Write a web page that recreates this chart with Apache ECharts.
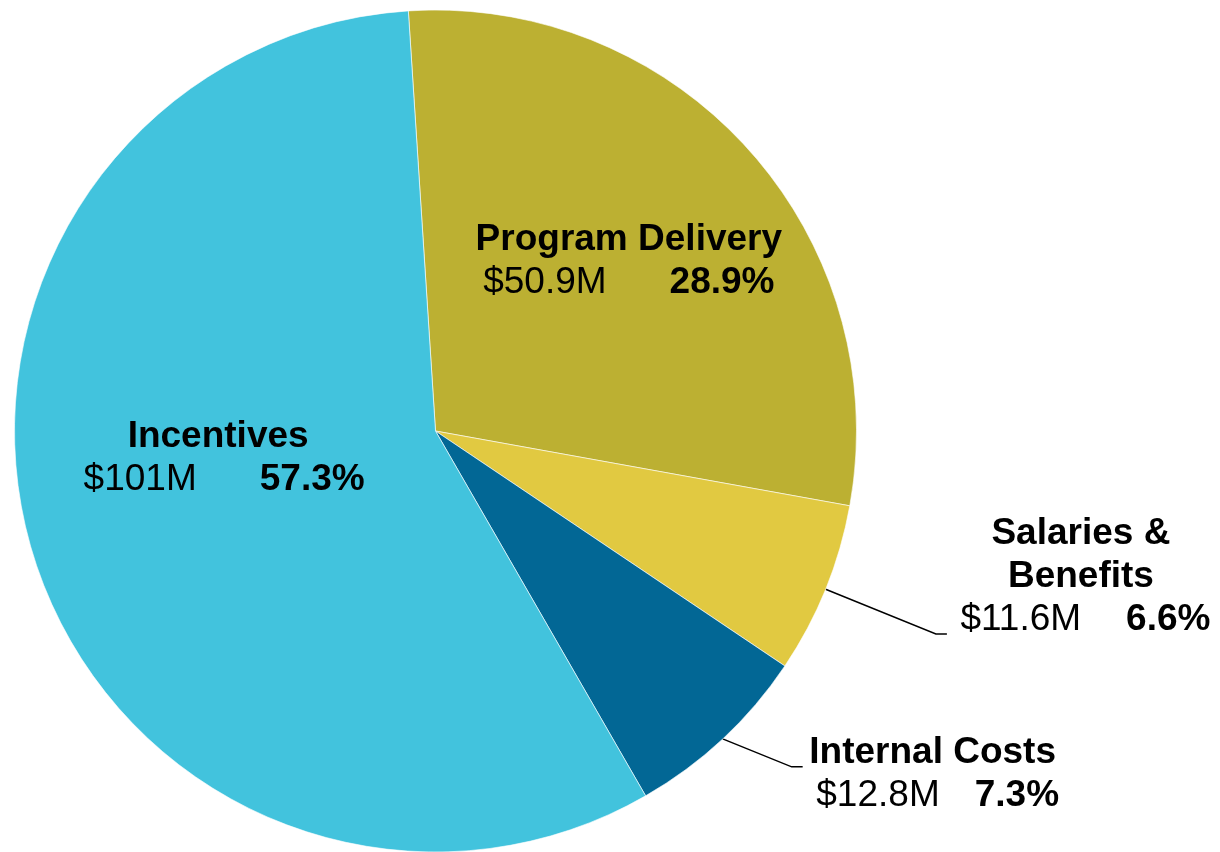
<!DOCTYPE html>
<html>
<head>
<meta charset="utf-8">
<script src="https://cdn.jsdelivr.net/npm/echarts@6/dist/echarts.min.js"></script>
<style>
  html, body { margin: 0; padding: 0; background: #fff; }
  #chart { width: 1220px; height: 852px; }
</style>
</head>
<body>
<div id="chart"></div>
<script>
// budget split, clockwise from the top
const categories = ['Program Delivery', 'Salaries &\nBenefits', 'Internal Costs', 'Incentives'];
const amounts = [50.9, 11.6, 12.8, 101]; // $M
const colors = ['#BCB032', '#E1C941', '#026795', '#42C3DD'];

const FONT = '"Liberation Sans", Arial, sans-serif';
// space between "$xx.xM" and the percent, per slice
const gaps = [63, 45, 35, 63];
// value line sits a little right of the name line on some labels
const valueIndent = [0, 9, 10, 12];
const outside = [false, true, true, false];

const chart = echarts.init(document.getElementById('chart'), null, { renderer: 'canvas' });

const option = {
  animation: false,
  series: [
    {
      type: 'pie',
      center: [435.5, 431],
      radius: 421,
      startAngle: 93.7,
      clockwise: true,
      avoidLabelOverlap: false,
      emphasis: { disabled: true },
      itemStyle: {
        borderColor: 'rgba(255,255,255,0.6)',
        borderWidth: 1
      },
      label: {
        show: true,
        position: 'inside',
        color: '#000',
        fontFamily: FONT,
        formatter: (p) =>
          '{n|' + p.name + '}\n{v|$' + p.value + 'M}{p|' + p.percent.toFixed(1) + '%}',
        rich: {
          n: { fontFamily: FONT, fontSize: 37, fontWeight: 'bold', color: '#000', lineHeight: 43 },
          v: { fontFamily: FONT, fontSize: 37, color: '#000', lineHeight: 43 },
          p: { fontFamily: FONT, fontSize: 37, fontWeight: 'bold', color: '#000', lineHeight: 43 }
        }
      },
      labelLine: {
        show: true,
        length: 119,
        length2: 11,
        lineStyle: { color: '#000', width: 1.5 }
      },
      labelLayout: function (params) {
        const i = params.dataIndex;
        const pts = params.labelLinePoints;
        if (i === 0) return { dx: 34, dy: -28 };
        if (i === 3) return { dx: -13, dy: -34 };
        if (i === 1) {
          const end = pts[2];
          return {
            x: end[0] + 134, y: end[1] - 57,
            align: 'center', verticalAlign: 'middle',
            labelLinePoints: pts
          };
        }
        // Internal Costs: flatter leader line than the radial default
        const s = pts[0];
        const bend = [s[0] + 69, s[1] + 28];
        const end = [bend[0] + 11, bend[1]];
        return {
          x: end[0] + 130, y: end[1] + 7,
          align: 'center', verticalAlign: 'middle',
          labelLinePoints: [s, bend, end]
        };
      },
      data: categories.map((name, i) => ({
        name: name,
        value: amounts[i],
        itemStyle: { color: colors[i] },
        label: {
          position: outside[i] ? 'outside' : 'inside',
          rich: {
            v: { padding: [0, 0, 0, valueIndent[i]] },
            p: { padding: [0, 0, 0, gaps[i]] }
          }
        },
        labelLine: { show: outside[i] }
      }))
    }
  ]
};

chart.setOption(option);
window.addEventListener('resize', () => chart.resize());
</script>
</body>
</html>
